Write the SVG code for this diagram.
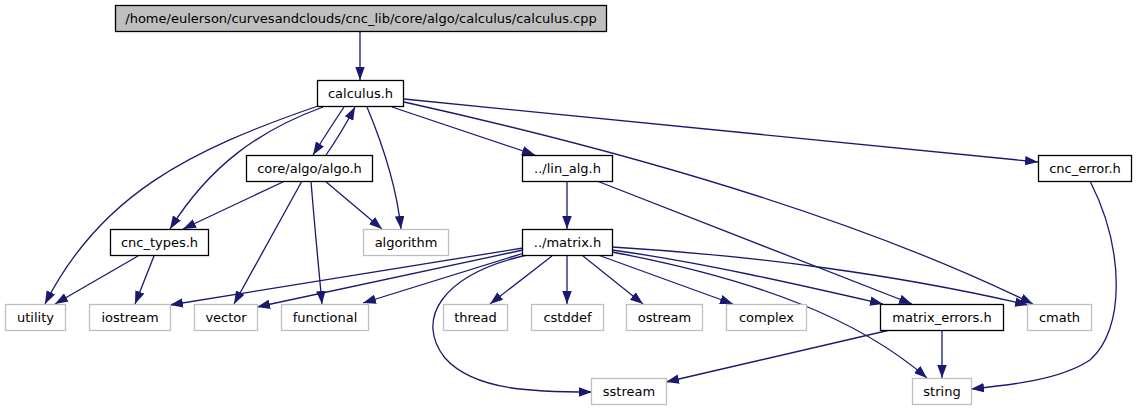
<svg xmlns="http://www.w3.org/2000/svg" width="1137" height="411" viewBox="0 0 1137 411">
<style>
  .n rect { fill: #ffffff; stroke: #000000; stroke-width: 1.3; }
  .x rect { fill: #ffffff; stroke: #bfbfbf; stroke-width: 1.3; }
  .r rect { fill: #bfbfbf; stroke: #000000; stroke-width: 1.3; }
  text { font-family: "DejaVu Sans", "Liberation Sans", sans-serif; font-size: 13px; fill: #000000; text-anchor: middle; }
  #edges path { fill: none; stroke: #191970; stroke-width: 1.3; marker-end: url(#arr); }
</style>
<defs>
  <marker id="arr" viewBox="0 0 13 9.5" refX="13" refY="4.75" markerWidth="13" markerHeight="9.5" markerUnits="userSpaceOnUse" orient="auto">
    <path d="M0,0 L13,4.75 L0,9.5 z" fill="#191970" stroke="none"/>
  </marker>
</defs>
<rect x="0" y="0" width="1137" height="411" fill="#ffffff"/>
<g id="edges">
  <path d="M360,32 L360,80"/>
  <path d="M344,107 Q330,128 313,155"/>
  <path d="M326,155 Q342,132 355,107"/>
  <path d="M323,107 C260,130 210,165 170,229"/>
  <path d="M318,106 C190,150 100,195 45,304"/>
  <path d="M367,107 C385,150 397,190 401,229"/>
  <path d="M392,107 L535,155"/>
  <path d="M404,102 Q800,190 1033,304"/>
  <path d="M404,99 L1038,162"/>
  <path d="M285,181 L183,229"/>
  <path d="M302,181 L234,304"/>
  <path d="M311,181 C314,220 318,260 322,304"/>
  <path d="M325,181 L382,229"/>
  <path d="M138,256 L55,304"/>
  <path d="M154,256 L135,304"/>
  <path d="M567,181 L567,229"/>
  <path d="M597,181 L912,304"/>
  <path d="M523,248 L170,305"/>
  <path d="M523,250 L257,307"/>
  <path d="M524,253 L363,303"/>
  <path d="M527,255 C440,275 415,320 445,358 C475,392 540,392 592,392"/>
  <path d="M552,256 L490,304"/>
  <path d="M567,255 L567,304"/>
  <path d="M583,256 L643,304"/>
  <path d="M598,255 L733,304"/>
  <path d="M612,250 C700,262 800,285 883,304"/>
  <path d="M612,247 C750,255 900,275 1028,305"/>
  <path d="M612,252 C760,280 860,320 927,378"/>
  <path d="M890,330 L666,382"/>
  <path d="M942,330 L942,378"/>
  <path d="M1090,181 C1125,250 1125,330 1090,360 C1060,380 1010,385 971,389"/>
</g>
<g id="root" class="r"><rect x="115.5" y="5.5" width="491" height="26"/><text x="361" y="23">/home/eulerson/curvesandclouds/cnc_lib/core/algo/calculus/calculus.cpp</text></g>
<g id="calculus_h" class="n"><rect x="317.5" y="80.5" width="86" height="26"/><text x="360.5" y="98">calculus.h</text></g>
<g id="algo_h" class="n"><rect x="246.5" y="155.5" width="126" height="26"/><text x="309.5" y="173">core/algo/algo.h</text></g>
<g id="cnc_types_h" class="n"><rect x="110.5" y="229.5" width="98" height="26"/><text x="159.5" y="247">cnc_types.h</text></g>
<g id="algorithm" class="x"><rect x="363.5" y="229.5" width="85" height="26"/><text x="406" y="247">algorithm</text></g>
<g id="lin_alg_h" class="n"><rect x="522.5" y="155.5" width="90" height="26"/><text x="567.5" y="173">../lin_alg.h</text></g>
<g id="matrix_h" class="n"><rect x="522.5" y="229.5" width="90" height="26"/><text x="567.5" y="247">../matrix.h</text></g>
<g id="cnc_error_h" class="n"><rect x="1038.5" y="155.5" width="93" height="26"/><text x="1085" y="173">cnc_error.h</text></g>
<g id="utility" class="x"><rect x="5.5" y="304.5" width="60" height="26"/><text x="35.5" y="322">utility</text></g>
<g id="iostream" class="x"><rect x="89.5" y="304.5" width="81" height="26"/><text x="130" y="322">iostream</text></g>
<g id="vector" class="x"><rect x="194.5" y="304.5" width="63" height="26"/><text x="226" y="322">vector</text></g>
<g id="functional" class="x"><rect x="281.5" y="304.5" width="87" height="26"/><text x="325" y="322">functional</text></g>
<g id="thread" class="x"><rect x="443.5" y="304.5" width="64" height="26"/><text x="475.5" y="322">thread</text></g>
<g id="cstddef" class="x"><rect x="531.5" y="304.5" width="72" height="26"/><text x="567.5" y="322">cstddef</text></g>
<g id="ostream" class="x"><rect x="626.5" y="304.5" width="76" height="26"/><text x="664.5" y="322">ostream</text></g>
<g id="complex" class="x"><rect x="726.5" y="304.5" width="80" height="26"/><text x="766.5" y="322">complex</text></g>
<g id="matrix_errors_h" class="n"><rect x="880.5" y="304.5" width="123" height="26"/><text x="942" y="322">matrix_errors.h</text></g>
<g id="cmath" class="x"><rect x="1027.5" y="304.5" width="64" height="26"/><text x="1059.5" y="322">cmath</text></g>
<g id="sstream" class="x"><rect x="591.5" y="378.5" width="75" height="26"/><text x="629" y="396">sstream</text></g>
<g id="string" class="x"><rect x="912.5" y="378.5" width="59" height="26"/><text x="942" y="396">string</text></g>
</svg>
